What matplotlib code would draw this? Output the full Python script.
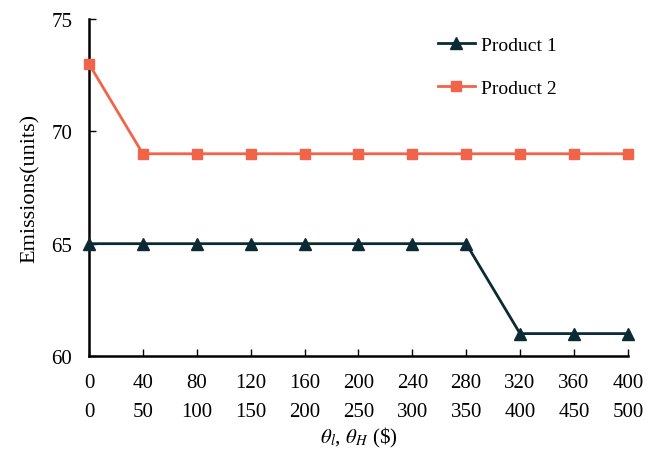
import matplotlib.pyplot as plt

theta_l = [0, 40, 80, 120, 160, 200, 240, 280, 320, 360, 400]
theta_h = [0, 50, 100, 150, 200, 250, 300, 350, 400, 450, 500]
product_1 = [65, 65, 65, 65, 65, 65, 65, 65, 61, 61, 61]
product_2 = [73, 69, 69, 69, 69, 69, 69, 69, 69, 69, 69]

plt.rcParams['font.family'] = ['Liberation Serif', 'DejaVu Serif']
plt.rcParams['mathtext.fontset'] = 'stix'

fig = plt.figure(figsize=(6.54, 4.52), dpi=100)
ax = fig.add_axes([0.136, 0.21, 0.824, 0.746])

x = list(range(len(theta_l)))
ax.plot(x, product_1, color='#0b2a33', lw=2, marker='^', ms=8, label='Product 1', clip_on=False, zorder=3)
ax.plot(x, product_2, color='#f0644a', lw=2, marker='s', ms=7, label='Product 2', clip_on=False, zorder=3)

ax.set_xlim(0, 10)
ax.set_ylim(60, 75)
ax.set_yticks([60, 65, 70, 75])
ax.set_xticks(x)
ax.set_xticklabels([str(v) for v in theta_l])

for side in ('top', 'right'):
    ax.spines[side].set_visible(False)
for side in ('left', 'bottom'):
    ax.spines[side].set_linewidth(1.8)

ax.tick_params(axis='both', direction='in', length=5, width=1, labelsize=15)
ax.tick_params(axis='x', pad=12)
ax.tick_params(axis='y', pad=12)

# second row of x labels (theta_H)
sec = ax.secondary_xaxis('bottom')
sec.set_xticks(x)
sec.set_xticklabels([str(v) for v in theta_h])
sec.tick_params(length=0, pad=33, labelsize=15)
sec.spines['bottom'].set_visible(False)

ax.set_ylabel('Emissions(units)', fontsize=16, labelpad=8)
ax.set_xlabel(r'$\theta_l$, $\theta_H$ (\$)', fontsize=15, labelpad=24)

ax.legend(loc='upper right', bbox_to_anchor=(0.90, 1.0), frameon=False, fontsize=14,
          handlelength=1.9, labelspacing=1.3, handletextpad=0.3)

fig.savefig('out.png', dpi=100)
